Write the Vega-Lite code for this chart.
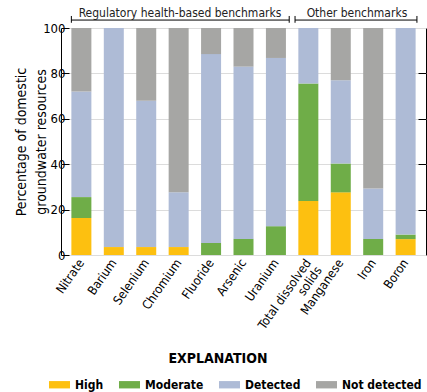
{
  "$schema": "https://vega.github.io/schema/vega-lite/v6.json",
  "width": 365,
  "height": 227,
  "autosize": {"type": "none"},
  "padding": {"left": 61, "top": 28, "right": 1, "bottom": 137},
  "config": {
    "font": "DejaVu Sans Condensed, Roboto, sans-serif",
    "view": {"stroke": "#000000", "strokeWidth": 1}
  },
  "datasets": {
    "bars": [
      {"category": "Nitrate", "level": "High", "ord": 1, "value": 16.3},
      {"category": "Nitrate", "level": "Moderate", "ord": 2, "value": 9.2},
      {"category": "Nitrate", "level": "Detected", "ord": 3, "value": 46.5},
      {"category": "Nitrate", "level": "Not detected", "ord": 4, "value": 28.0},
      {"category": "Barium", "level": "High", "ord": 1, "value": 3.5},
      {"category": "Barium", "level": "Detected", "ord": 3, "value": 96.5},
      {"category": "Selenium", "level": "High", "ord": 1, "value": 3.5},
      {"category": "Selenium", "level": "Detected", "ord": 3, "value": 64.5},
      {"category": "Selenium", "level": "Not detected", "ord": 4, "value": 32.0},
      {"category": "Chromium", "level": "High", "ord": 1, "value": 3.5},
      {"category": "Chromium", "level": "Detected", "ord": 3, "value": 24.1},
      {"category": "Chromium", "level": "Not detected", "ord": 4, "value": 72.4},
      {"category": "Fluoride", "level": "Moderate", "ord": 2, "value": 5.3},
      {"category": "Fluoride", "level": "Detected", "ord": 3, "value": 83.2},
      {"category": "Fluoride", "level": "Not detected", "ord": 4, "value": 11.5},
      {"category": "Arsenic", "level": "Moderate", "ord": 2, "value": 7.1},
      {"category": "Arsenic", "level": "Detected", "ord": 3, "value": 75.9},
      {"category": "Arsenic", "level": "Not detected", "ord": 4, "value": 17.0},
      {"category": "Uranium", "level": "Moderate", "ord": 2, "value": 12.7},
      {"category": "Uranium", "level": "Detected", "ord": 3, "value": 74.1},
      {"category": "Uranium", "level": "Not detected", "ord": 4, "value": 13.2},
      {"category": "Total dissolved solids", "level": "High", "ord": 1, "value": 23.8},
      {"category": "Total dissolved solids", "level": "Moderate", "ord": 2, "value": 51.7},
      {"category": "Total dissolved solids", "level": "Detected", "ord": 3, "value": 24.5},
      {"category": "Manganese", "level": "High", "ord": 1, "value": 27.6},
      {"category": "Manganese", "level": "Moderate", "ord": 2, "value": 12.7},
      {"category": "Manganese", "level": "Detected", "ord": 3, "value": 36.7},
      {"category": "Manganese", "level": "Not detected", "ord": 4, "value": 23.0},
      {"category": "Iron", "level": "Moderate", "ord": 2, "value": 7.1},
      {"category": "Iron", "level": "Detected", "ord": 3, "value": 22.2},
      {"category": "Iron", "level": "Not detected", "ord": 4, "value": 70.7},
      {"category": "Boron", "level": "High", "ord": 1, "value": 7.0},
      {"category": "Boron", "level": "Moderate", "ord": 2, "value": 2.0},
      {"category": "Boron", "level": "Detected", "ord": 3, "value": 91.0}
    ],
    "brackets": [
      {"group": "Regulatory health-based benchmarks", "x0": -0.31, "x1": 6.41, "y": 103.5, "xmid": 3.04, "ylab": 106.8},
      {"group": "Other benchmarks", "x0": 6.59, "x1": 10.35, "y": 103.5, "xmid": 8.5, "ylab": 106.8}
    ],
    "bracketEnds": [
      {"x": -0.31, "ytop": 105.3, "ybot": 102.3},
      {"x": 6.41, "ytop": 105.3, "ybot": 102.3},
      {"x": 6.59, "ytop": 105.3, "ybot": 102.3},
      {"x": 10.35, "ytop": 105.3, "ybot": 102.3}
    ]
  },
  "layer": [
    {
      "data": {"name": "bars"},
      "mark": {"type": "bar"},
      "encoding": {
        "x": {
          "field": "category",
          "type": "nominal",
          "sort": null,
          "scale": {"paddingInner": 0.383, "paddingOuter": 0.32},
          "axis": {
            "title": null,
            "labelAngle": -55,
            "ticks": false,
            "domain": false,
            "labelFontSize": 12.5,
            "labelColor": "#000000",
            "labelPadding": 5,
            "labelLineHeight": 13,
            "labelExpr": "datum.value == 'Total dissolved solids' ? ['Total dissolved', 'solids'] : datum.value"
          }
        },
        "y": {
          "field": "value",
          "type": "quantitative",
          "stack": "zero",
          "scale": {"domain": [0, 100], "nice": false},
          "axis": {
            "orient": "left",
            "values": [0, 20, 40, 60, 80, 100],
            "grid": true,
            "gridColor": "#dcdcdc",
            "domain": false,
            "tickSize": -8,
            "tickColor": "#000000",
            "labelFontSize": 13,
            "labelColor": "#000000",
            "labelPadding": 4,
            "title": ["Percentage of domestic", "groundwater resources"],
            "titleFontSize": 14,
            "titleFontWeight": "normal",
            "titleColor": "#000000",
            "titleLineHeight": 20,
            "titlePadding": -6
          }
        },
        "color": {
          "field": "level",
          "type": "nominal",
          "scale": {
            "domain": ["High", "Moderate", "Detected", "Not detected"],
            "range": ["#fdc010", "#6fad48", "#aebbd6", "#a6a6a4"]
          },
          "legend": {
            "orient": "none",
            "legendX": -12,
            "legendY": 324,
            "direction": "horizontal",
            "title": "EXPLANATION",
            "titleFontSize": 14,
            "titleFontWeight": "bold",
            "titleColor": "#000000",
            "titleAnchor": "middle",
            "titlePadding": 8,
            "labelFontSize": 12,
            "labelFontWeight": "bold",
            "labelColor": "#000000",
            "labelOffset": 5,
            "symbolType": "M-1,-0.35H1V0.35H-1Z",
            "symbolSize": 441,
            "symbolStrokeWidth": 0,
            "symbolOpacity": 1,
            "columnPadding": 15,
            "encode": {"title": {"update": {"dx": {"value": -17}}}}
          }
        },
        "order": {"field": "ord", "type": "quantitative"}
      }
    },
    {
      "data": {"name": "brackets"},
      "mark": {"type": "rule", "color": "#000000", "strokeWidth": 1},
      "encoding": {
        "x": {"field": "x0", "type": "quantitative", "scale": {"domain": [-0.63, 10.63], "nice": false, "zero": false}, "axis": null},
        "x2": {"field": "x1"},
        "y": {
          "field": "y",
          "type": "quantitative",
          "scale": {"domain": [0, 100], "nice": false},
          "axis": {
            "orient": "right",
            "values": [20, 40, 60, 80],
            "labels": false,
            "grid": false,
            "domain": false,
            "tickSize": -8,
            "tickColor": "#000000",
            "title": null
          }
        }
      }
    },
    {
      "data": {"name": "bracketEnds"},
      "mark": {"type": "rule", "color": "#000000", "strokeWidth": 1},
      "encoding": {
        "x": {"field": "x", "type": "quantitative", "scale": {"domain": [-0.63, 10.63], "nice": false, "zero": false}, "axis": null},
        "y": {"field": "ybot", "type": "quantitative", "scale": {"domain": [0, 100], "nice": false}, "axis": null},
        "y2": {"field": "ytop"}
      }
    },
    {
      "data": {"name": "brackets"},
      "mark": {"type": "text", "fontSize": 12, "color": "#222222", "baseline": "middle", "align": "center"},
      "encoding": {
        "x": {"field": "xmid", "type": "quantitative", "scale": {"domain": [-0.63, 10.63], "nice": false, "zero": false}, "axis": null},
        "y": {"field": "ylab", "type": "quantitative", "scale": {"domain": [0, 100], "nice": false}, "axis": null},
        "text": {"field": "group"}
      }
    }
  ],
  "resolve": {
    "scale": {"x": "independent"},
    "axis": {"x": "independent", "y": "independent"}
  }
}
